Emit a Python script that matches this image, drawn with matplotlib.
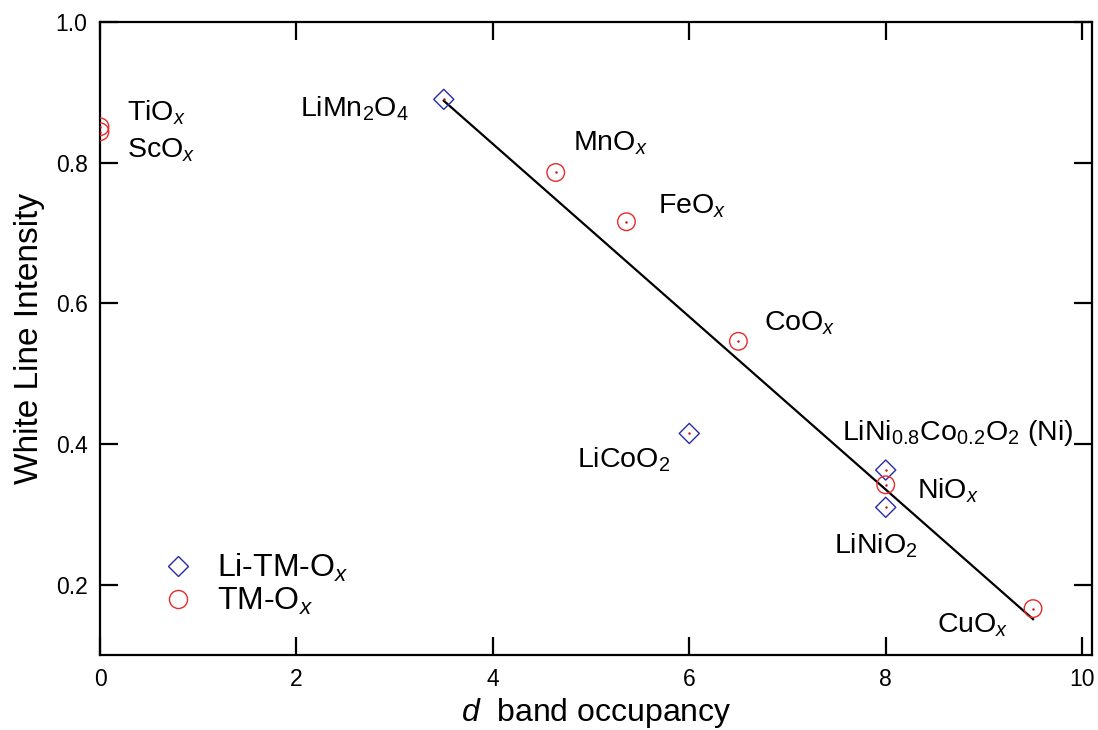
import matplotlib
matplotlib.use("Agg")
import matplotlib.pyplot as plt
from matplotlib.lines import Line2D

plt.rcParams['font.family'] = ['Liberation Sans', 'DejaVu Sans']
plt.rcParams['mathtext.fontset'] = 'custom'
plt.rcParams['mathtext.rm'] = 'Liberation Sans'
plt.rcParams['mathtext.it'] = 'Liberation Sans:italic'
plt.rcParams['mathtext.bf'] = 'Liberation Sans:bold'

# Lithium transition-metal oxides
li_names = [r'LiMn$_2$O$_4$', r'LiCoO$_2$', r'LiNi$_{0.8}$Co$_{0.2}$O$_2$ (Ni)', r'LiNiO$_2$']
li_occ = [3.5, 6.0, 8.0, 8.0]
li_wli = [0.890, 0.415, 0.363, 0.310]

# Transition-metal oxides
tm_names = [r'TiO$_\mathit{x}$', r'ScO$_\mathit{x}$', r'MnO$_\mathit{x}$', r'FeO$_\mathit{x}$',
            r'CoO$_\mathit{x}$', r'NiO$_\mathit{x}$', r'CuO$_\mathit{x}$']
tm_occ = [0.0, 0.0, 4.64, 5.36, 6.5, 8.0, 9.5]
tm_wli = [0.851, 0.844, 0.786, 0.716, 0.546, 0.342, 0.166]

# Linear trend line
fit_occ = [3.5, 9.5]
fit_wli = [0.888, 0.151]

BLUE = '#2a2aa8'
RED = '#e82a2a'

fig = plt.figure(figsize=(10.98, 7.30), dpi=100)
ax = fig.add_axes([0.0911, 0.1027, 0.9034, 0.8672])

ax.plot(fit_occ, fit_wli, color='black', lw=1.6, zorder=2)
ax.scatter(li_occ, li_wli, marker='D', s=105, facecolors='none', edgecolors=BLUE,
           linewidths=1.0, zorder=3)
ax.scatter(tm_occ, tm_wli, marker='o', s=160, facecolors='none', edgecolors=RED,
           linewidths=1.0, zorder=3)
ax.scatter(li_occ + tm_occ, li_wli + tm_wli, marker='o', s=3, color='#c01010',
           linewidths=0, zorder=4)

ax.set_xlim(0, 10.1)
ax.set_ylim(0.1, 1.0)
ax.set_xticks([0, 2, 4, 6, 8, 10])
ax.set_yticks([0.2, 0.4, 0.6, 0.8, 1.0])
ax.set_yticklabels(['0.2', '0.4', '0.6', '0.8', '1.0'])
ax.tick_params(direction='in', length=13, width=1.6, labelsize=16.5, pad=9,
               top=True, right=True)
for sp in ax.spines.values():
    sp.set_linewidth(1.6)

ax.set_xlabel(r'$\mathit{d}$  band occupancy', fontsize=23, labelpad=4)
ax.set_ylabel('White Line Intensity', fontsize=24, labelpad=8)

# Label placement (data coordinates of baseline anchor)
fs = 20.5
def lab(txt, x, y, ha='left'):
    ax.text(x, y, txt, fontsize=fs, ha=ha, va='baseline', zorder=5)

lab(li_names[0], 3.14, 0.866, ha='right')
lab(li_names[1], 4.86, 0.366)
lab(li_names[2], 7.55, 0.406)
lab(li_names[3], 7.47, 0.244)
lab(tm_names[0], 0.27, 0.860)
lab(tm_names[1], 0.27, 0.807)
lab(tm_names[2], 4.82, 0.817)
lab(tm_names[3], 5.68, 0.728)
lab(tm_names[4], 6.76, 0.562)
lab(tm_names[5], 8.32, 0.322)
lab(tm_names[6], 8.52, 0.132)

handles = [
    Line2D([], [], marker='D', ls='none', markersize=10, markerfacecolor='none',
           markeredgecolor=BLUE, markeredgewidth=1.0, label=r'Li-TM-O$_\mathit{x}$'),
    Line2D([], [], marker='o', ls='none', markersize=13, markerfacecolor='none',
           markeredgecolor=RED, markeredgewidth=1.0, label=r'TM-O$_\mathit{x}$'),
]
ax.legend(handles=handles, loc='lower left', bbox_to_anchor=(0.0625, 0.06),
          frameon=False, fontsize=23, handlelength=1.0, handletextpad=0.72,
          labelspacing=0.05, borderpad=0, borderaxespad=0)

fig.savefig('out.png', dpi=100)
